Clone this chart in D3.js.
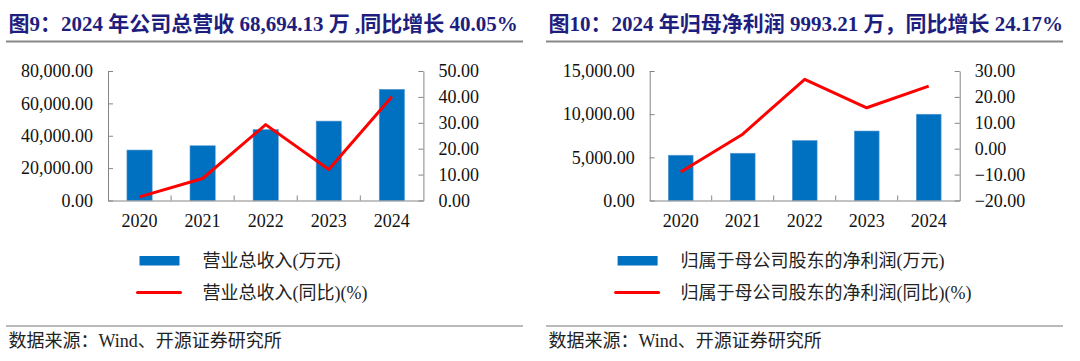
<!DOCTYPE html>
<html>
  <head>
    <meta charset="utf-8" />
    <script src="https://d3js.org/d3.v7.min.js"></script>
    <style>
      body { margin: 0; background: #fff; }
      text { font-family: "Liberation Serif", "Noto Sans CJK SC", serif; }
    </style>
  </head>

  <body>
    <svg width="1080" height="361"></svg>

    <script type="text/javascript">
      var years = ["2020", "2021", "2022", "2023", "2024"];

      // left panel: revenue
      var revenue = [31170, 33820, 43800, 49049, 68694.13];
      var revenueYoy = [1.4, 8.5, 29.3, 12.0, 40.05];
      var revenueTicks = [0, 20000, 40000, 60000, 80000];
      var revenueYoyTicks = [0, 10, 20, 30, 40, 50];

      // right panel: net profit
      var profit = [5243, 5475, 6944, 8048, 9993.21];
      var profitYoy = [-9.0, 5.6, 26.8, 15.8, 24.17];
      var profitTicks = [0, 5000, 10000, 15000];
      var profitYoyTicks = [-20, -10, 0, 10, 20, 30];

      var svg = d3.select("svg");
      var fmt = d3.format(",.2f");
      var fmtR = d3.format(".2f");

      drawPanel({
        ox: 0,
        title: "图9：2024 年公司总营收 68,694.13 万 ,同比增长 40.05%",
        left: 108, right: 423.4,
        bars: revenue, line: revenueYoy,
        lTicks: revenueTicks, rTicks: revenueYoyTicks,
        legendX: 139.5,
        barName: "营业总收入(万元)",
        lineName: "营业总收入(同比)(%)"
      });

      drawPanel({
        ox: 540,
        title: "图10：2024 年归母净利润 9993.21 万，同比增长 24.17%",
        left: 109.7, right: 419.7,
        bars: profit, line: profitYoy,
        lTicks: profitTicks, rTicks: profitYoyTicks,
        legendX: 77.6,
        barName: "归属于母公司股东的净利润(万元)",
        lineName: "归属于母公司股东的净利润(同比)(%)"
      });

      function drawPanel(c) {
        var g = svg.append("g").attr("transform", "translate(" + c.ox + ",0)");
        var top = 71, bottom = 200.5;

        // title + rule
        g.append("text")
          .attr("x", 8.5)
          .attr("y", 23)
          .attr("dy", "0.36em")
          .attr("font-size", 21)
          .attr("font-weight", "bold")
          .attr("fill", "#1E1E7E")
          .text(c.title);
        g.append("line")
          .attr("x1", 6).attr("x2", 523)
          .attr("y1", 41.5).attr("y2", 41.5)
          .attr("stroke", "#888").attr("stroke-width", 2);

        var x = d3.scaleBand().domain(years).range([c.left, c.right]).paddingInner(0.6).paddingOuter(0.3);
        var yL = d3.scaleLinear().domain(d3.extent(c.lTicks)).range([bottom, top]);
        var yR = d3.scaleLinear().domain(d3.extent(c.rTicks)).range([bottom, top]);

        // bars
        g.selectAll(".bar")
          .data(c.bars)
          .enter()
          .append("rect")
          .attr("class", "bar")
          .attr("x", (d, i) => x(years[i]))
          .attr("width", x.bandwidth())
          .attr("y", (d) => yL(d))
          .attr("height", (d) => bottom - yL(d))
          .attr("fill", "#0070C0")
          .attr("stroke", "#5B9BD5")
          .attr("stroke-width", 0.6);

        // axes
        var axL = g.append("g")
          .attr("transform", "translate(" + c.left + ",0)")
          .call(d3.axisLeft(yL).tickValues(c.lTicks).tickFormat(fmt).tickSizeInner(-5).tickSizeOuter(0).tickPadding(15));
        var axR = g.append("g")
          .attr("transform", "translate(" + c.right + ",0)")
          .call(d3.axisRight(yR).tickValues(c.rTicks).tickFormat(fmtR).tickSizeInner(-5).tickSizeOuter(0).tickPadding(15));
        var axB = g.append("g")
          .attr("transform", "translate(0," + bottom + ")")
          .call(d3.axisBottom(x).tickSize(0).tickPadding(14));

        [axL, axR, axB].forEach((a) => {
          a.select(".domain").attr("stroke", "#868686");
          a.selectAll(".tick line").attr("stroke", "#868686");
          a.selectAll("text").attr("font-size", 18).attr("fill", "#111")
            .attr("font-family", "Liberation Serif");
        });

        // category boundary ticks on the x axis (inward)
        var gap = (x.paddingInner() * x.step()) / 2;
        g.selectAll(".xtick")
          .data(years.slice(1))
          .enter()
          .append("line")
          .attr("x1", (d) => x(d) - gap)
          .attr("x2", (d) => x(d) - gap)
          .attr("y1", bottom)
          .attr("y2", bottom - 5)
          .attr("stroke", "#868686");

        // line
        var lineGen = d3.line()
          .x((d, i) => x(years[i]) + x.bandwidth() / 2)
          .y((d) => yR(d));
        g.append("path")
          .attr("d", lineGen(c.line))
          .attr("fill", "none")
          .attr("stroke", "#FF0000")
          .attr("stroke-width", 3)
          .attr("stroke-linejoin", "round");

        // legend
        g.append("rect")
          .attr("x", c.legendX).attr("y", 256)
          .attr("width", 40).attr("height", 9.5)
          .attr("fill", "#0070C0");
        g.append("line")
          .attr("x1", c.legendX - 2).attr("x2", c.legendX + 41)
          .attr("y1", 292.5).attr("y2", 292.5)
          .attr("stroke", "#FF0000").attr("stroke-width", 3)
          .attr("stroke-linecap", "round");
        g.append("text")
          .attr("x", c.legendX + 63).attr("y", 261).attr("dy", "0.35em")
          .attr("font-size", 18).attr("fill", "#222")
          .text(c.barName);
        g.append("text")
          .attr("x", c.legendX + 63).attr("y", 292.5).attr("dy", "0.35em")
          .attr("font-size", 18).attr("fill", "#222")
          .text(c.lineName);

        // source
        g.append("line")
          .attr("x1", 6).attr("x2", 523)
          .attr("y1", 326).attr("y2", 326)
          .attr("stroke", "#777").attr("stroke-width", 1.2);
        g.append("text")
          .attr("x", 8.5).attr("y", 341).attr("dy", "0.35em")
          .attr("font-size", 18).attr("fill", "#222")
          .text("数据来源：Wind、开源证券研究所");
      }
    </script>
  </body>
</html>
